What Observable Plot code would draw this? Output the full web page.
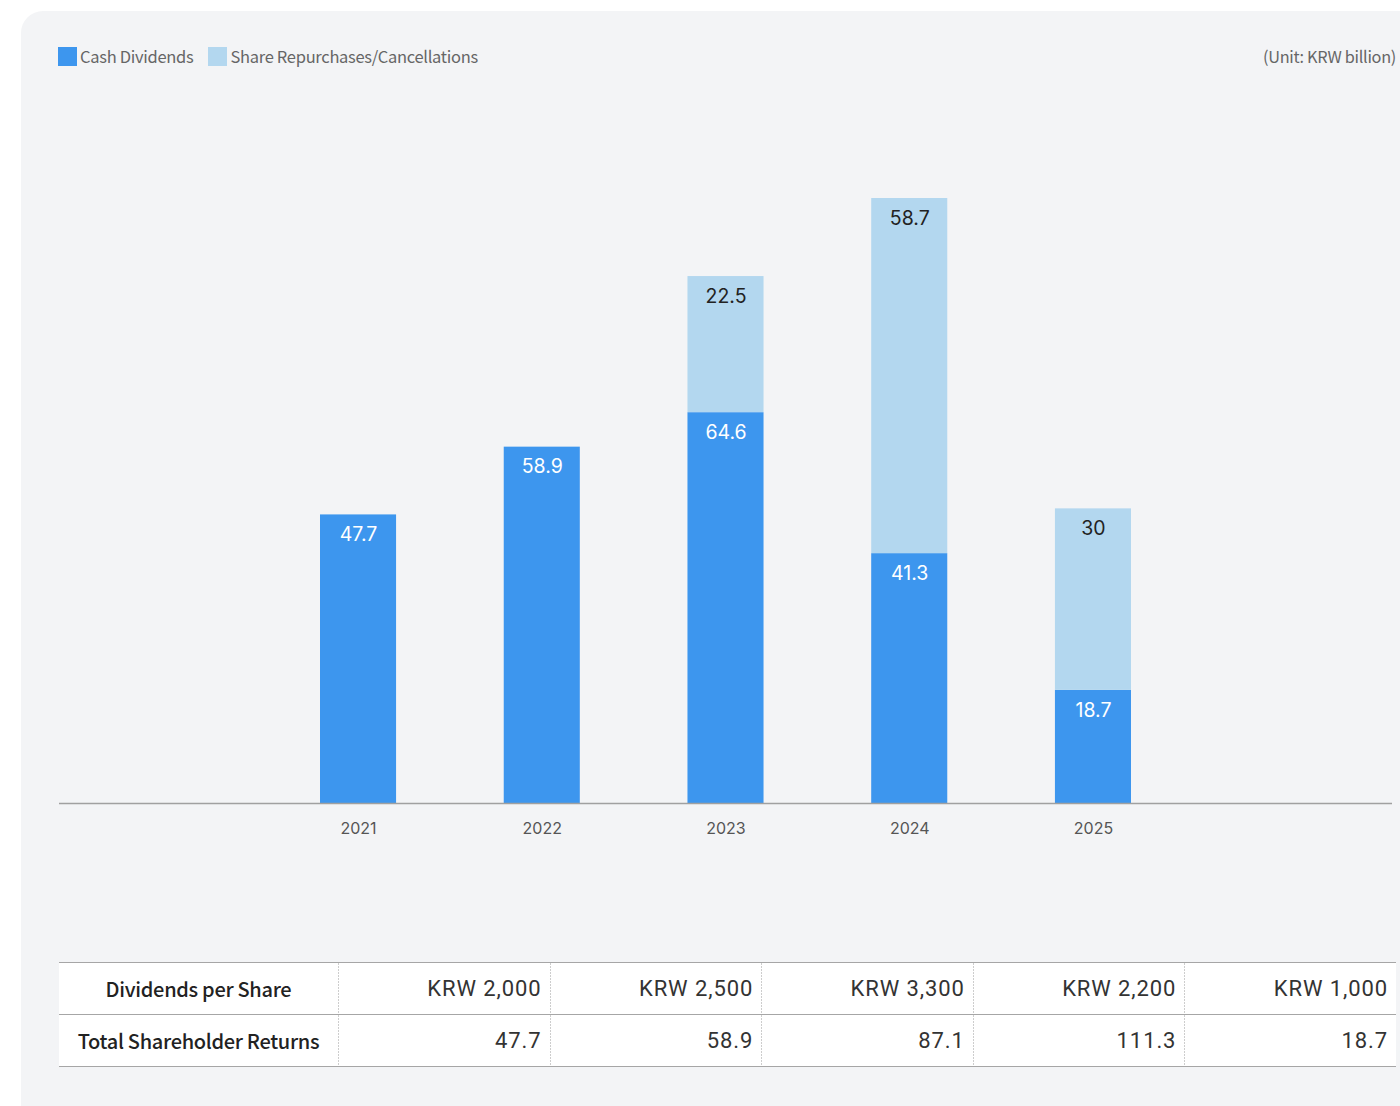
<!DOCTYPE html>
<html>
<head>
<meta charset="utf-8">
<script src="https://cdn.jsdelivr.net/npm/d3@7"></script>
<script src="https://cdn.jsdelivr.net/npm/@observablehq/plot@0.6"></script>
<style>
  html, body { margin: 0; padding: 0; background: #ffffff; width: 1400px; height: 1106px; overflow: hidden; }
  #panel { position: absolute; left: 21px; top: 11px; width: 1420px; height: 1120px; background: #f3f4f6; border-radius: 22px; }
  .legend { position: absolute; top: 46px; left: 58px; display: flex; align-items: center; font-family: "Noto Sans CJK KR", "Noto Sans", sans-serif; font-size: 16.5px; color: #666; line-height: 20px; letter-spacing: -0.3px; }
  .legend .sw { width: 19px; height: 19px; display: inline-block; margin-right: 3px; }
  .legend .item { display: flex; align-items: center; margin-right: 15px; }
  #unit { position: absolute; top: 46px; right: 4px; font-family: "Noto Sans CJK KR", "Noto Sans", sans-serif; font-size: 16.3px; color: #666; line-height: 20px; letter-spacing: -0.3px; }
  #chart { position: absolute; left: 0; top: 150px; }
  table { position: absolute; left: 59px; top: 962px; width: 1337px; border-collapse: collapse; background: #fff; table-layout: fixed; }
  td { height: 52px; padding: 0 8px; border-top: 1.5px solid #a6a6a6; border-bottom: 1.5px solid #a6a6a6; font-family: Roboto, sans-serif; font-size: 22px; letter-spacing: 0.9px; color: #333; text-align: right; box-sizing: border-box;
       background-image: linear-gradient(to bottom, #9a9a9a 1px, transparent 1px); background-size: 1px 3px; background-repeat: repeat-y; background-position: left top; }
  td.head { background-image: none; text-align: center; font-family: "Noto Sans CJK KR", "Noto Sans", sans-serif; font-weight: 500; font-size: 20px; color: #222; letter-spacing: -0.3px; width: 279px; }
</style>
</head>
<body>
<div id="panel"></div>
<div class="legend" id="legend"></div>
<div id="unit"></div>
<div id="chart"></div>
<table id="tbl"></table>
<script>
const years = ["2021", "2022", "2023", "2024", "2025"];
const seriesNames = ["Cash Dividends", "Share Repurchases/Cancellations"];
const seriesColors = ["#3d96ee", "#b3d7ef"];
const cashDividends = [47.7, 58.9, 64.6, 41.3, 18.7];
const repurchases = [0, 0, 22.5, 58.7, 30];
const dividendsPerShare = ["KRW 2,000", "KRW 2,500", "KRW 3,300", "KRW 2,200", "KRW 1,000"];
const totalReturns = ["47.7", "58.9", "87.1", "111.3", "18.7"];
const rowLabels = ["Dividends per Share", "Total Shareholder Returns"];
const unitLabel = "(Unit: KRW billion)";

// legend
const leg = document.getElementById("legend");
seriesNames.forEach((n, i) => {
  const it = document.createElement("div");
  it.className = "item";
  it.innerHTML = `<span class="sw" style="background:${seriesColors[i]}"></span><span>${n}</span>`;
  leg.appendChild(it);
});
document.getElementById("unit").textContent = unitLabel;

// data (long format)
const data = [];
years.forEach((y, i) => {
  data.push({year: y, series: seriesNames[0], value: cashDividends[i]});
  if (repurchases[i] > 0) data.push({year: y, series: seriesNames[1], value: repurchases[i]});
});

const baseline = 653;
const chart = Plot.plot({
  width: 1400,
  height: baseline + 60,
  marginLeft: 59,
  marginRight: 8,
  marginTop: 0,
  marginBottom: 60,
  style: {background: "transparent", overflow: "visible"},
  x: {domain: years, range: [320, 1131], paddingInner: 0.586, paddingOuter: 0, round: false, label: null},
  y: {domain: [0, 100], range: [baseline, baseline - 605], axis: null},
  color: {domain: seriesNames, range: seriesColors},
  marks: [
    Plot.barY(data, {x: "year", y: "value", fill: "series", order: seriesNames}),
    Plot.text(data, Plot.stackY2({
      x: "year", y: "value", z: "series", order: seriesNames,
      text: d => String(d.value),
      fill: d => d.series === seriesNames[0] ? "#ffffff" : "#222222",
      dy: 20, fontSize: 19.5, fontFamily: "Inter, Roboto, sans-serif", letterSpacing: "-0.5px"
    })),
    Plot.ruleY([0], {stroke: "#a0a0a0", strokeWidth: 1.5}),
    Plot.axisX({tickSize: 0, tickPadding: 19, fontSize: 16, fontFamily: "Inter, Roboto, sans-serif", fill: "#555", label: null})
  ]
});
document.getElementById("chart").appendChild(chart);

// table
const tbl = document.getElementById("tbl");
[dividendsPerShare, totalReturns].forEach((row, r) => {
  const tr = document.createElement("tr");
  const th = document.createElement("td");
  th.className = "head";
  th.textContent = rowLabels[r];
  tr.appendChild(th);
  row.forEach(v => {
    const td = document.createElement("td");
    td.textContent = v;
    tr.appendChild(td);
  });
  tbl.appendChild(tr);
});
</script>
</body>
</html>
